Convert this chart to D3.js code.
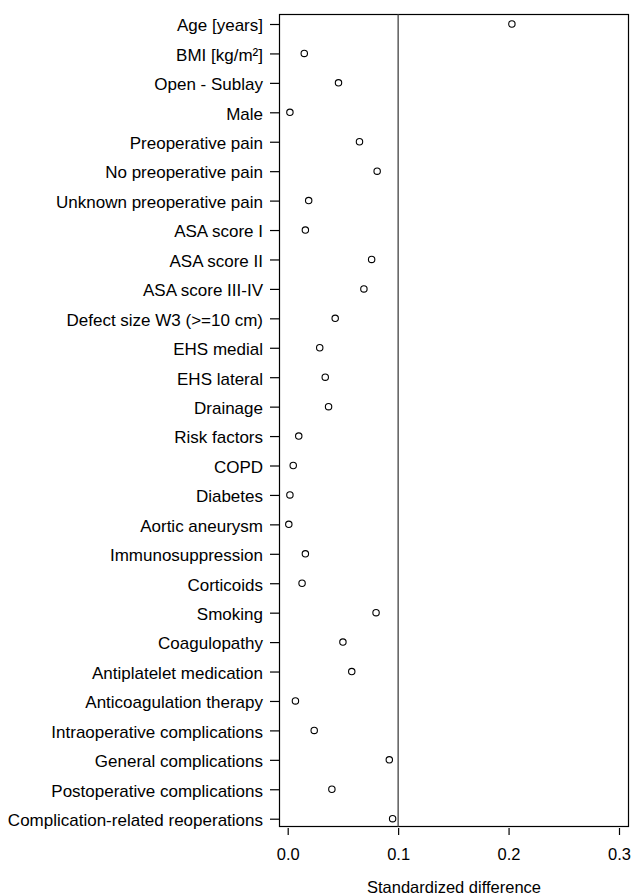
<!DOCTYPE html>
<html>
<head>
<meta charset="utf-8">
<script src="https://cdn.jsdelivr.net/npm/d3@7"></script>
<style>
  html, body { margin: 0; padding: 0; background: #fff; }
  svg { display: block; }
  text { font-family: "Liberation Sans", Arial, Helvetica, sans-serif; fill: #000; }
</style>
</head>
<body>
<svg id="chart" width="631" height="894"></svg>
<script>
// Covariates, top to bottom
const covariates = [
  "Age [years]", "BMI [kg/m²]", "Open - Sublay", "Male", "Preoperative pain",
  "No preoperative pain", "Unknown preoperative pain", "ASA score I", "ASA score II",
  "ASA score III-IV", "Defect size W3 (>=10 cm)", "EHS medial", "EHS lateral",
  "Drainage", "Risk factors", "COPD", "Diabetes", "Aortic aneurysm",
  "Immunosuppression", "Corticoids", "Smoking", "Coagulopathy",
  "Antiplatelet medication", "Anticoagulation therapy",
  "Intraoperative complications", "General complications",
  "Postoperative complications", "Complication-related reoperations"
];

// Standardized difference per covariate
const stdDiff = [
  0.203, 0.015, 0.046, 0.002, 0.065,
  0.081, 0.019, 0.016, 0.076,
  0.069, 0.043, 0.029, 0.034,
  0.037, 0.010, 0.005, 0.002, 0.001,
  0.016, 0.013, 0.080, 0.050,
  0.058, 0.007,
  0.024, 0.092,
  0.040, 0.095
];

const xTicks = [0.0, 0.1, 0.2, 0.3];
const threshold = 0.1;
const xTitle = "Standardized difference";

const svg = d3.select("#chart");
const box = { left: 279, right: 629, top: 14, bottom: 827 };

const x = d3.scaleLinear().domain([0, 0.3]).range([287.7, 619]);
const y = d3.scalePoint().domain(covariates).range([24, 818.7]);

// Plot frame
svg.append("rect")
  .attr("x", box.left + 0.5).attr("y", box.top + 0.5)
  .attr("width", box.right - box.left - 1).attr("height", box.bottom - box.top - 1)
  .attr("fill", "none").attr("stroke", "#000").attr("stroke-width", 1.2);

// Reference line at 0.1
svg.append("line")
  .attr("x1", x(threshold)).attr("x2", x(threshold))
  .attr("y1", box.top).attr("y2", box.bottom)
  .attr("stroke", "#333").attr("stroke-width", 1.2);

// Y axis: ticks + covariate labels
const yAxis = d3.axisLeft(y).tickSize(9).tickPadding(7);
const gy = svg.append("g").attr("transform", `translate(${box.left},0)`).call(yAxis);
gy.select(".domain").remove();
gy.selectAll(".tick line").attr("stroke", "#000").attr("stroke-width", 1.2);
gy.selectAll(".tick text")
  .attr("font-size", 17)
  .attr("font-family", "Liberation Sans, Arial, sans-serif")
  .attr("dy", "0.4em")
  .attr("fill", "#000");

// X axis below the frame
const xAxis = d3.axisBottom(x).tickValues(xTicks).tickFormat(d3.format(".1f")).tickSize(7).tickPadding(13);
const gx = svg.append("g").attr("transform", `translate(0,${box.bottom + 1})`).call(xAxis);
gx.select(".domain").remove();
gx.selectAll(".tick line").attr("stroke", "#000").attr("stroke-width", 1.2);
gx.selectAll(".tick text")
  .attr("font-size", 16.5)
  .attr("font-family", "Liberation Sans, Arial, sans-serif")
  .attr("fill", "#000");

// Axis title
svg.append("text")
  .attr("x", (box.left + box.right) / 2)
  .attr("y", 892.5)
  .attr("text-anchor", "middle")
  .attr("font-size", 16.5)
  .text(xTitle);

// Points
svg.append("g").selectAll("circle")
  .data(covariates.map((c, i) => ({ c, v: stdDiff[i] })))
  .join("circle")
  .attr("cx", d => x(d.v))
  .attr("cy", d => y(d.c))
  .attr("r", 3.2)
  .attr("fill", "none")
  .attr("stroke", "#000")
  .attr("stroke-width", 1.1);
</script>
</body>
</html>
